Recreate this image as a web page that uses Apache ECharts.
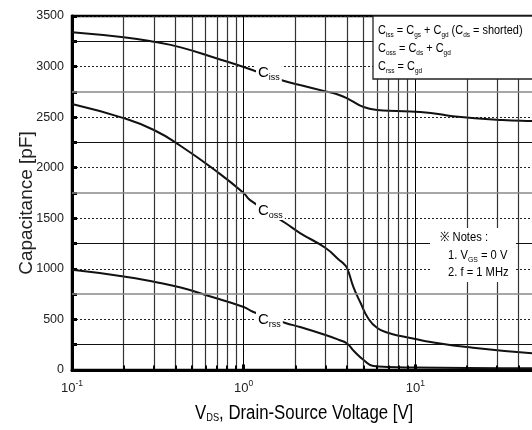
<!DOCTYPE html>
<html>
<head>
<meta charset="utf-8">
<script src="https://cdn.jsdelivr.net/npm/echarts@6/dist/echarts.min.js"></script>
<style>html,body{margin:0;padding:0;background:#fff}#c{width:532px;height:430px}</style>
</head>
<body>
<div id="c"></div>
<script>
// ---- data ----
var vdsCiss = [0.1, 0.2, 0.3, 0.43, 0.7, 1, 1.65, 2.13, 3, 3.6, 4.18, 5, 6, 7.8, 12.3, 16.5, 32, 50, 100];
var ciss    = [3340, 3290, 3245, 3190, 3080, 2996, 2867, 2818, 2755, 2719, 2669, 2600, 2571, 2561, 2541, 2510, 2472, 2460, 2440];

var vdsCoss = [0.1, 0.2, 0.3, 0.43, 0.7, 1, 1.09, 1.75, 2.13, 3, 3.6, 3.8, 4, 4.36, 4.8, 5.3, 6, 7, 8.2, 10, 12.3, 20, 46, 100];
var coss    = [2630, 2490, 2373, 2215, 1960, 1750, 1680, 1453, 1354, 1206, 1088, 1055, 1008, 820, 662, 514, 415, 366, 336, 306, 277, 227, 168, 135];

var vdsCrss = [0.1, 0.2, 0.3, 0.43, 0.6, 1, 1.14, 1.75, 2.13, 3, 3.6, 4, 4.4, 5, 5.7, 6.9, 10, 20, 50, 100];
var crss    = [990, 925, 872, 815, 741, 623, 573, 465, 425, 346, 297, 262, 185, 99, 40, 30, 25, 20, 16, 14];

// grid lines
var minorVds  = [0.2,0.3,0.4,0.5,0.6,0.7,0.8,0.9, 2,3,4,5,6,7,8,9, 20,30,40,50,60,70,80,90];
var decadeVds = [1, 10];
var solidCapDark  = [250, 1250, 2250, 3250];
var solidCapLight = [750, 1750, 2750];

var SANS = "'Liberation Sans',Arial,sans-serif";
var INK = '#222';

function pairs(xs, ys){ return xs.map(function(x,i){ return [x, ys[i]]; }); }

var gridLines = [];
minorVds.forEach(function(v){ gridLines.push({xAxis: v, lineStyle:{color:'#333', width:1.2, type:'solid'}}); });
decadeVds.forEach(function(v){ gridLines.push({xAxis: v, lineStyle:{color:'#000', width:1, type:'solid'}}); });
solidCapDark.forEach(function(v){ gridLines.push({yAxis: v, lineStyle:{color:'#111', width:1, type:'solid'}}); });
solidCapLight.forEach(function(v){ gridLines.push({yAxis: v, lineStyle:{color:'#888', width:1.6, type:'solid'}}); });
// short inward ticks on the bottom axis
minorVds.forEach(function(v){ gridLines.push([{coord:[v, 0], lineStyle:{color:'#000', width:2, type:'solid'}}, {coord:[v, 45]}]); });
decadeVds.forEach(function(v){ gridLines.push([{coord:[v, 0], lineStyle:{color:'#000', width:3, type:'solid'}}, {coord:[v, 55]}]); });

var chart = echarts.init(document.getElementById('c'), null, {renderer:'canvas'});

function capLabel(sub){
  return {
    text: '{c|C}{s|' + sub + '}',
    rich: {
      c: {fontSize: 15, fontFamily: SANS, color: INK},
      s: {fontSize: 9, fontFamily: SANS, padding:[10,0,0,0], color: INK}
    },
    backgroundColor:'#fff',
    padding:[2,2,0,2]
  };
}

var curveStyle = {color:'#111', width:2};

var option = {
  animation: false,
  backgroundColor: '#fff',
  grid: {left: 72, top: 16, width: 515, height: 354, outerBoundsMode: 'none', containLabel: false,
         show: true, borderColor:'#000', borderWidth: 2.5, backgroundColor:'transparent'},
  xAxis: {
    type: 'log', logBase: 10, min: 0.1, max: 100,
    axisLine: {show: true, lineStyle:{color:'#000', width: 3}},
    axisTick: {show: false},
    splitLine: {show: false},
    axisLabel: {
      margin: 9,
      formatter: function(v){ var e = Math.round(Math.log10(v)); return '{b|10}{p|' + e + '}'; },
      rich: {
        b: {fontSize: 13, fontFamily: SANS, color: INK},
        p: {fontSize: 8.5, fontFamily: SANS, color: INK, padding:[0,0,10,0]}
      }
    }
  },
  yAxis: {
    type: 'value', min: 0, max: 3500, interval: 500,
    axisLine: {show: true, lineStyle:{color:'#000', width: 3}},
    axisTick: {show: true, inside: true, length: 5, lineStyle:{color:'#000', width: 3}},
    minorTick: {show: true, splitNumber: 2, length: 5, lineStyle:{color:'#000', width: 3}},
    axisLabel: {fontSize: 12.5, fontFamily: SANS, color: INK, margin: 8,
                formatter: function(v){ return String(v); }},
    splitLine: {show: true, lineStyle:{color:'#222', width: 1, type:[2,2]}}
  },
  series: [
    {type:'line', data: [], z: 1, silent: true,
     markLine: {silent: true, symbol: ['none','none'], label:{show:false}, animation:false, data: gridLines}},
    {name:'Ciss', type:'line', data: pairs(vdsCiss, ciss), showSymbol:false, smooth:0.5, z:3, lineStyle: curveStyle},
    {name:'Coss', type:'line', data: pairs(vdsCoss, coss), showSymbol:false, smooth:0.5, z:3, lineStyle: curveStyle},
    {name:'Crss', type:'line', data: pairs(vdsCrss, crss), showSymbol:false, smooth:0.5, z:3, lineStyle: curveStyle}
  ],
  graphic: [
    // axis titles
    {type:'text', x: 27, y: 203, rotation: Math.PI/2, z: 10, style:{
      text: 'Capacitance [pF]', fontSize: 19, fontFamily: SANS, fill: INK,
      align:'center', verticalAlign:'middle'
    }},
    {type:'text', x: 195, y: 403, scaleX: 0.84, z: 10, style:{
      text: '{v|V}{d|DS}{v|, Drain-Source Voltage [V]}',
      rich: {
        v: {fontSize: 20, fontFamily: SANS, color: INK},
        d: {fontSize: 11, fontFamily: SANS, color: INK, padding:[9,0,0,0]}
      }
    }},
    // curve labels
    {type:'text', left: 256, top: 61, z: 10, style: capLabel('iss')},
    {type:'text', left: 256, top: 199, z: 10, style: capLabel('oss')},
    {type:'text', left: 256, top: 308, z: 10, style: capLabel('rss')},
    // definitions box
    {type:'rect', shape:{x:373, y:16, width:170, height:63}, z: 10,
     style:{fill:'#fff', stroke:'#222', lineWidth:1.3}},
    {type:'text', x: 378, y: 21, scaleX: 0.81, z: 11, style:{
      text: '{c|C}{s|iss}{c| = C}{s|gs}{c| + C}{s|gd}{c| (C}{s|ds}{c| = shorted)}\n{c|C}{s|oss}{c| = C}{s|ds}{c| + C}{s|gd}\n{c|C}{s|rss}{c| = C}{s|gd}',
      rich:{
        c:{fontSize:13.5, fontFamily: SANS, color: INK, lineHeight:18},
        s:{fontSize:8, fontFamily: SANS, color: INK, padding:[9,0,0,0], lineHeight:18}
      }
    }},
    // notes
    {type:'rect', shape:{x:430, y:228, width:86, height:54}, z: 10, style:{fill:'#fff'}},
    {type:'text', x: 440, y: 231, scaleX: 0.86, z: 11, style:{
      text: '{c|\u203B Notes :}',
      rich:{ c:{fontSize:13, fontFamily: SANS, color: INK} }
    }},
    {type:'text', x: 448, y: 247, scaleX: 0.86, z: 11, style:{
      text: '{c|1. V}{s|GS}{c| = 0 V}\n{c|2. f = 1 MHz}',
      rich:{
        c:{fontSize:13, fontFamily: SANS, color: INK, lineHeight:17},
        s:{fontSize:8, fontFamily: SANS, color: INK, padding:[8,0,0,0], lineHeight:17}
      }
    }}
  ]
};
chart.setOption(option);
</script>
</body>
</html>
